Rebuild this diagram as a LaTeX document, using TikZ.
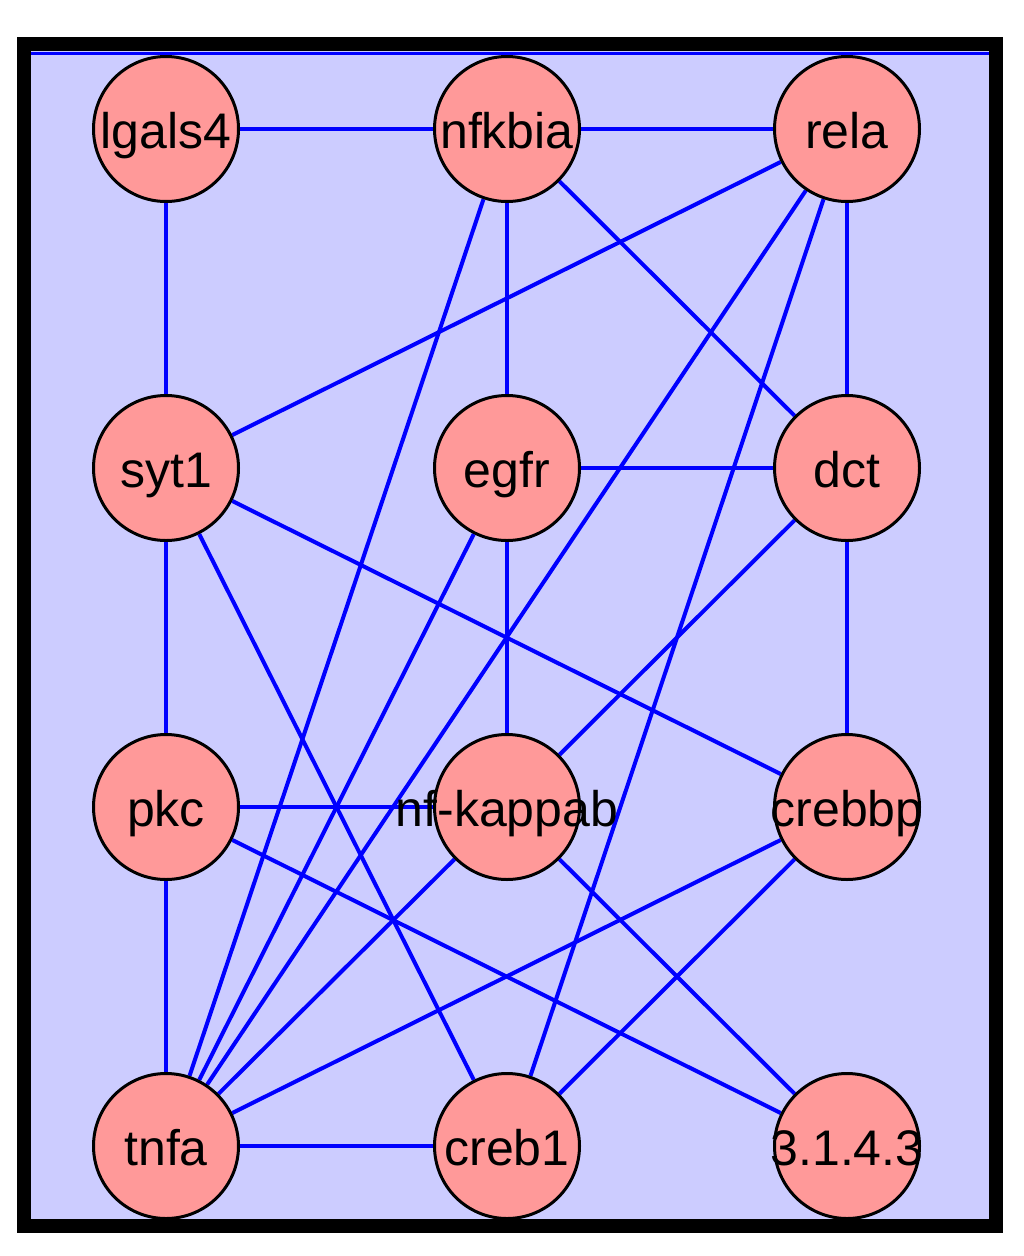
\documentclass[tikz,border=0pt]{standalone}
\usepackage{fontspec}
\setmainfont{Liberation Sans}
\pgfdeclarelayer{bgl}
\pgfdeclarelayer{edgel}
\pgfsetlayers{bgl,edgel,main}
\definecolor{panel}{HTML}{CCCCFF}
\definecolor{nodefill}{HTML}{FF9999}
\definecolor{edgeblue}{HTML}{0000FF}
\tikzset{
  circ/.style={circle, draw=black, line width=3pt, fill=nodefill, minimum size=145pt, inner sep=0pt},
  lbl/.style={inner sep=0pt, text height=38pt, text depth=0pt, font=\fontsize{50pt}{50pt}\selectfont},
  edge/.style={draw=edgeblue, line width=4pt},
}
\begin{document}
\begin{tikzpicture}[x=1pt,y=-1pt]
\useasboundingbox (0,0) rectangle (1024,1256);
\begin{pgfonlayer}{bgl}
\fill[panel] (24,44) rectangle (996,1226);
\draw[edgeblue, line width=3pt] (31,53) -- (990,53);
\draw[black, line width=14pt] (24,44) rectangle (996,1226);
\end{pgfonlayer}
% nodes
\node[circ] (lgals4) at (166,129) {};
\node[circ] (nfkbia) at (507,129) {};
\node[circ] (rela)   at (847,129) {};
\node[circ] (syt1)   at (166,468) {};
\node[circ] (egfr)   at (507,468) {};
\node[circ] (dct)    at (847,468) {};
\node[circ] (pkc)    at (166,807) {};
\node[circ] (nfk)    at (507,807) {};
\node[circ] (crebbp) at (847,807) {};
\node[circ] (tnfa)   at (166,1146) {};
\node[circ] (creb1)  at (507,1146) {};
\node[circ] (ec)     at (847,1146) {};
% labels
\node[lbl] (t1) at (lgals4) {lgals4};
\node[lbl] (t2) at (nfkbia) {nfkbia};
\node[lbl] (t3) at (rela) {rela};
\node[lbl] (t4) at (syt1) {syt1};
\node[lbl] (t5) at (egfr) {egfr};
\node[lbl] (t6) at (dct) {dct};
\node[lbl] (t7) at (pkc) {pkc};
\node[lbl] (t8) at (nfk) {nf-kappab};
\node[lbl] (t9) at (crebbp) {crebbp};
\node[lbl] (t10) at (tnfa) {tnfa};
\node[lbl] (t11) at (creb1) {creb1};
\node[lbl] (t12) at (ec) {3.1.4.3};
% edges
\begin{pgfonlayer}{edgel}
\draw[edge] (lgals4) -- (nfkbia);
\draw[edge] (nfkbia) -- (rela);
\draw[edge] (lgals4) -- (syt1);
\draw[edge] (rela) -- (syt1);
\draw[edge] (nfkbia) -- (egfr);
\draw[edge] (nfkbia) -- (dct);
\draw[edge] (nfkbia) -- (tnfa);
\draw[edge] (rela) -- (dct);
\draw[edge] (rela) -- (tnfa);
\draw[edge] (rela) -- (creb1);
\draw[edge] (syt1) -- (pkc);
\draw[edge] (syt1) -- (creb1);
\draw[edge] (syt1) -- (crebbp);
\draw[edge] (egfr) -- (dct);
\draw[edge] (egfr) -- (nfk);
\draw[edge] (egfr) -- (tnfa);
\draw[edge] (dct) -- (crebbp);
\draw[edge] (dct) -- (nfk);
\draw[edge] (pkc) -- (nfk);
\draw[edge] (pkc) -- (tnfa);
\draw[edge] (pkc) -- (ec);
\draw[edge] (nfk) -- (tnfa);
\draw[edge] (nfk) -- (ec);
\draw[edge] (crebbp) -- (tnfa);
\draw[edge] (crebbp) -- (creb1);
\draw[edge] (tnfa) -- (creb1);
\end{pgfonlayer}
\end{tikzpicture}
\end{document}
